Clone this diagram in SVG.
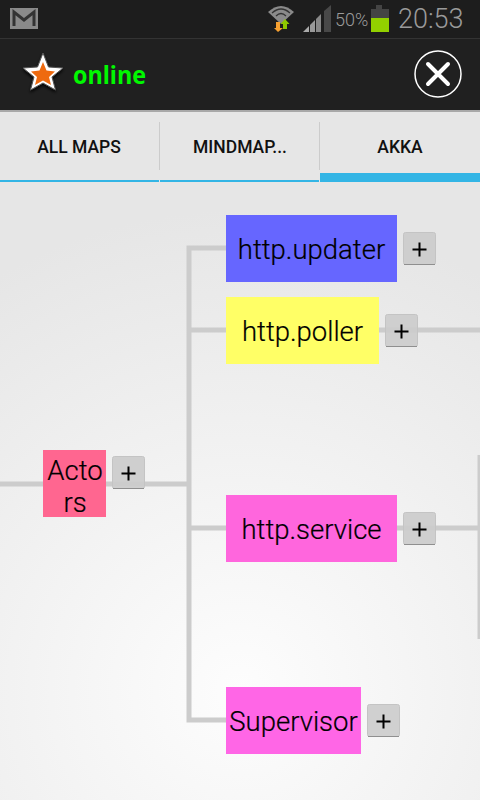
<svg xmlns="http://www.w3.org/2000/svg" width="480" height="800" viewBox="0 0 480 800">
<style>
.n{font-family:Roboto,"Liberation Sans",sans-serif;font-size:27.500px;font-weight:300;fill:#000;stroke:#000;stroke-width:.2;text-anchor:middle}
.tab{font-family:Roboto,"Liberation Sans",sans-serif;font-size:17.500px;font-weight:500;fill:#111;text-anchor:middle}
.c{fill:none;stroke:#ccc;stroke-width:5}
.b{fill:#ccc;fill-opacity:.92;stroke:#c4c4c4;stroke-width:1}
.p{stroke:#000;stroke-width:2;fill:none}
.st{fill:#9a9a9a;font-family:Roboto,"Liberation Sans",sans-serif;font-weight:300}
</style>
<defs>
<radialGradient id="bg" gradientUnits="userSpaceOnUse" cx="240" cy="690" r="480">
<stop offset="0" stop-color="#fdfdfd"/><stop offset=".35" stop-color="#f5f5f5"/><stop offset="1" stop-color="#e6e6e6"/>
</radialGradient>
<filter id="sh" x="-30%" y="-30%" width="160%" height="160%"><feDropShadow dx="0" dy="2" stdDeviation="1.500" flood-color="#000" flood-opacity=".9"/></filter>
<g id="plus"><rect class="b" x=".5" y=".5" width="32" height="32" rx="2"/><path d="M1 32.500H32" stroke="#8f8f8f" stroke-width="1"/><path class="p" d="M9.500 17.500H23.500M16.500 10.500V24.500"/></g>
</defs>
<rect width="480" height="800" fill="url(#bg)"/>
<g id="statusbar">
<rect width="480" height="38" fill="#1d1d1d"/>
<rect y="38" width="480" height="1" fill="#333"/>
<rect x="10" y="8" width="28" height="21" fill="#8a8a8a"/>
<path d="M14 26V12L24 20L34 12V26" fill="none" stroke="#333" stroke-width="3"/>
<path d="M268 12Q281 0 294 12L281 24Z" fill="#8a8a8a"/>
<path d="M272 13Q281 5 290 13M276 16Q281 11 286 16" fill="none" stroke="#333" stroke-width="1.200"/>
<path d="M276 22H280V28H283L278 32L274 28H276Z" fill="#f7a030"/>
<path d="M283 29V24H280.500L285 19L289.500 24H287V29Z" fill="#8fc800"/>
<path d="M303 32L309 26V32Z" fill="#aaa"/>
<path d="M310 25L315 20V32H310Z" fill="#999"/>
<path d="M316 19L321 14V32H316Z" fill="#888"/>
<path d="M324 11L331 5V32H324Z" fill="#484848"/>
<text class="st" x="335" y="26" font-size="18">50%</text>
<path d="M371 9H376V5H382V9H389V18H371Z" fill="#444"/>
<rect x="371" y="18" width="18" height="14" fill="#92d000"/>
<text class="st" x="398" y="28" font-size="27">20:53</text>
</g>
<g id="actionbar">
<rect y="39" width="480" height="71" fill="#202020"/>
<rect y="110" width="480" height="2" fill="#a8a8a8"/>
<path d="M43 53L48.500 67L63 68L52 77L55.500 90L43 83L30.500 90L34 77L23 68L37.500 67Z" fill="#fff" stroke="#555" stroke-width="1" stroke-linejoin="round" filter="url(#sh)"/>
<path d="M43 62L46.500 70.500L55 71.500L49 77L51 85L43 80.500L35 85L37 77L31 71.500L39.500 70.500Z" fill="#ee6a10"/>
<text x="73" y="84" font-family="'Open Sans','Noto Sans',sans-serif" font-size="25" font-weight="700" fill="#00f800" textLength="73" lengthAdjust="spacingAndGlyphs">online</text>
<circle cx="438" cy="74" r="23" fill="none" stroke="#fff" stroke-width="1.500"/>
<path d="M428 64L448 84M448 64L428 84" stroke="#fff" stroke-width="4" stroke-linecap="round"/>
</g>
<g id="tabs">
<rect y="112" width="480" height="70" fill="#e6e6e6"/>
<rect x="159" y="122" width="1" height="48" fill="#ccc"/>
<rect x="319" y="122" width="1" height="48" fill="#ccc"/>
<rect x="0" y="180" width="159" height="2" fill="#33b5e5"/>
<rect x="160" y="180" width="159" height="2" fill="#33b5e5"/>
<rect x="320" y="173" width="160" height="9" fill="#33b5e5"/>
<text class="tab" x="79" y="152.500">ALL MAPS</text>
<text class="tab" x="240" y="152.500">MINDMAP...</text>
<text class="tab" x="400" y="152.500">AKKA</text>
</g>
<g id="connectors">
<path class="c" d="M0 484H43M106 484H189M226 248H189V720H226M189 330H226M189 528H226M379 330H480M397 528H480"/>
<path d="M479 455V639" stroke="#ccc" stroke-width="3" fill="none"/>
</g>
<g id="node-actors"><rect x="43" y="450" width="63" height="67" fill="#ff6690"/><text class="n" x="75" y="480">Acto</text><text class="n" x="75" y="512">rs</text><use href="#plus" x="112" y="456"/></g>
<g id="node-updater"><rect x="226" y="215" width="171" height="67" fill="#6666ff"/><text class="n" x="311.500" y="259">http.updater</text><use href="#plus" x="403" y="232"/></g>
<g id="node-poller"><rect x="226" y="297" width="153" height="67" fill="#ffff66"/><text class="n" x="302.500" y="341">http.poller</text><use href="#plus" x="385" y="314"/></g>
<g id="node-service"><rect x="226" y="495" width="171" height="67" fill="#ff66dd"/><text class="n" x="311.500" y="539">http.service</text><use href="#plus" x="403" y="512"/></g>
<g id="node-supervisor"><rect x="226" y="687" width="135" height="67" fill="#ff66e6"/><text class="n" x="293.500" y="731">Supervisor</text><use href="#plus" x="367" y="704"/></g>
</svg>
